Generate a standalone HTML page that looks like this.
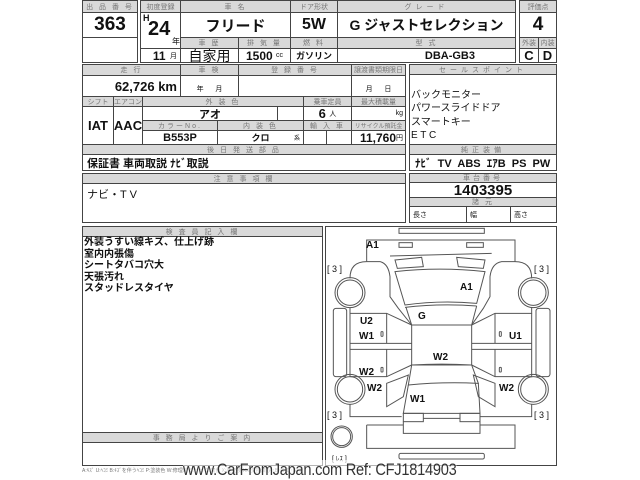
<!DOCTYPE html>
<html><head><meta charset="utf-8">
<style>
*{margin:0;padding:0;box-sizing:border-box}
body{width:640px;height:480px;background:#fff;position:relative;overflow:hidden;font-family:"Liberation Sans","Noto Sans CJK JP",sans-serif;color:#111}
.c{position:absolute;border:1px solid #444;display:flex;align-items:center;justify-content:center;white-space:nowrap;overflow:hidden}
.h{background:#d9d9d9;color:#777;font-size:7px;letter-spacing:2px}
.v{font-weight:bold;font-size:11px}
.big{font-weight:bold;font-size:19px}
.t{position:absolute;white-space:nowrap}
</style></head><body>
<div class="c h" style="left:82px;top:0;width:56px;height:13px">出 品 番 号</div>
<div class="c big" style="left:82px;top:12px;width:56px;height:26px">363</div>
<div class="c" style="left:82px;top:37px;width:56px;height:26px"></div>

<div class="c h" style="left:140px;top:0;width:41px;height:13px;letter-spacing:0">初度登録</div>
<div class="c" style="left:140px;top:12px;width:41px;height:37px"></div>
<div class="t" style="left:143px;top:13px;font-size:9px;font-weight:bold">H</div>
<div class="t" style="left:148px;top:18px;font-size:20px;font-weight:bold">24</div>
<div class="t" style="left:172px;top:36px;font-size:8px">年</div>
<div class="c" style="left:140px;top:48px;width:41px;height:15px;justify-content:flex-end;padding-right:3px"><b style="font-size:12px">11</b>&nbsp;<span style="font-size:7px">月</span></div>

<div class="c h" style="left:180px;top:0;width:111px;height:13px">車 名</div>
<div class="c big" style="left:180px;top:12px;width:111px;height:26px;font-size:15px">フリード</div>
<div class="c h" style="left:290px;top:0;width:48px;height:13px;letter-spacing:0">ドア形状</div>
<div class="c big" style="left:290px;top:12px;width:48px;height:26px;font-size:16px">5W</div>
<div class="c h" style="left:337px;top:0;width:179px;height:13px;letter-spacing:4px">グレード</div>
<div class="c big" style="left:337px;top:12px;width:179px;height:26px;font-size:14px">G ジャストセレクション</div>

<div class="c h" style="left:180px;top:37px;width:59px;height:12px">車 歴</div>
<div class="c h" style="left:238px;top:37px;width:53px;height:12px">排 気 量</div>
<div class="c h" style="left:290px;top:37px;width:48px;height:12px">燃 料</div>
<div class="c h" style="left:337px;top:37px;width:179px;height:12px">型 式</div>
<div class="c" style="left:180px;top:48px;width:59px;height:15px;font-size:14px">自家用</div>
<div class="c v" style="left:238px;top:48px;width:53px;height:15px;font-size:12px">1500&nbsp;<span style="font-size:7px;font-weight:normal">cc</span></div>
<div class="c v" style="left:290px;top:48px;width:48px;height:15px;font-size:9px">ガソリン</div>
<div class="c v" style="left:337px;top:48px;width:179px;height:15px;justify-content:flex-end;padding-right:40px">DBA-GB3</div>

<div class="c h" style="left:519px;top:0;width:38px;height:13px;letter-spacing:0">評価点</div>
<div class="c big" style="left:519px;top:12px;width:38px;height:26px">4</div>
<div class="c h" style="left:519px;top:37px;width:20px;height:12px;letter-spacing:0">外装</div>
<div class="c h" style="left:538px;top:37px;width:19px;height:12px;letter-spacing:0">内装</div>
<div class="c v" style="left:519px;top:48px;width:20px;height:15px;font-size:13px">C</div>
<div class="c v" style="left:538px;top:48px;width:19px;height:15px;font-size:13px">D</div>

<div class="c h" style="left:82px;top:64px;width:99px;height:12px">走 行</div>
<div class="c h" style="left:180px;top:64px;width:59px;height:12px">車 検</div>
<div class="c h" style="left:238px;top:64px;width:114px;height:12px">登 録 番 号</div>
<div class="c h" style="left:351px;top:64px;width:55px;height:12px;letter-spacing:0">譲渡書類期限日</div>
<div class="c v" style="left:82px;top:75px;width:99px;height:22px;justify-content:flex-end;padding-right:3px;font-size:13px">62,726 km</div>
<div class="c" style="left:180px;top:75px;width:59px;height:22px;font-size:7px;align-items:flex-end;padding-bottom:2px">年&nbsp;&nbsp;&nbsp;&nbsp;&nbsp;&nbsp;月</div>
<div class="c" style="left:238px;top:75px;width:114px;height:22px"></div>
<div class="c" style="left:351px;top:75px;width:55px;height:22px;font-size:7px;align-items:flex-end;padding-bottom:2px">月&nbsp;&nbsp;&nbsp;&nbsp;&nbsp;&nbsp;日</div>

<div class="c h" style="left:82px;top:96px;width:32px;height:11px;letter-spacing:0">シフト</div>
<div class="c h" style="left:113px;top:96px;width:30px;height:11px;letter-spacing:0">エアコン</div>
<div class="c h" style="left:142px;top:96px;width:162px;height:11px">外 装 色</div>
<div class="c h" style="left:303px;top:96px;width:49px;height:11px;letter-spacing:0">乗車定員</div>
<div class="c h" style="left:351px;top:96px;width:55px;height:11px;letter-spacing:0">最大積載量</div>
<div class="c v" style="left:82px;top:106px;width:32px;height:39px;font-size:13px">IAT</div>
<div class="c v" style="left:113px;top:106px;width:30px;height:39px;font-size:13px">AAC</div>
<div class="c v" style="left:142px;top:106px;width:136px;height:15px">アオ</div>
<div class="c" style="left:277px;top:106px;width:27px;height:15px"></div>
<div class="c v" style="left:303px;top:106px;width:49px;height:15px;font-size:13px">6&nbsp;<span style="font-size:7px;font-weight:normal">人</span></div>
<div class="c" style="left:351px;top:106px;width:55px;height:15px;justify-content:flex-end;font-size:7px;padding-right:2px">kg</div>
<div class="c h" style="left:142px;top:120px;width:76px;height:11px">カラーNo.</div>
<div class="c h" style="left:217px;top:120px;width:87px;height:11px">内 装 色</div>
<div class="c h" style="left:303px;top:120px;width:49px;height:11px">輸 入 車</div>
<div class="c h" style="left:351px;top:120px;width:55px;height:11px;letter-spacing:0;font-size:6px">リサイクル預託金</div>
<div class="c v" style="left:142px;top:130px;width:76px;height:15px">B553P</div>
<div class="c v" style="left:217px;top:130px;width:87px;height:15px;font-size:9px">クロ<span style="position:absolute;right:3px;font-size:6px;font-weight:normal">系</span></div>
<div class="c" style="left:303px;top:130px;width:24px;height:15px"></div>
<div class="c" style="left:326px;top:130px;width:26px;height:15px"></div>
<div class="c v" style="left:351px;top:130px;width:55px;height:15px;font-size:12px;justify-content:flex-end;padding-right:2px">11,760<span style="font-size:7px;font-weight:normal">円</span></div>
<div class="c h" style="left:82px;top:144px;width:324px;height:11px">後 日 発 送 部 品</div>
<div class="c" style="left:82px;top:154px;width:324px;height:17px;justify-content:flex-start;padding-left:4px;font-size:11px;font-weight:bold">保証書 車両取説 ﾅﾋﾞ取説</div>

<div class="c" style="left:409px;top:64px;width:148px;height:107px"></div>
<div class="c h" style="left:409px;top:64px;width:148px;height:11px;letter-spacing:4px">セールスポイント</div>
<div class="t" style="left:411px;top:89px;font-size:10px;line-height:13.3px">バックモニター<br>パワースライドドア<br>スマートキー<br>E T C</div>
<div class="c h" style="left:409px;top:144px;width:148px;height:11px;letter-spacing:4px">純正装備</div>
<div class="c" style="left:409px;top:154px;width:148px;height:17px;justify-content:flex-start;padding-left:5px;font-size:11px;font-weight:bold">ﾅﾋﾞ&nbsp; TV&nbsp; ABS&nbsp; ｴｱB&nbsp; PS&nbsp; PW</div>

<div class="c h" style="left:82px;top:173px;width:324px;height:11px">注 意 事 項 欄</div>
<div class="c" style="left:82px;top:183px;width:324px;height:40px;justify-content:flex-start;align-items:flex-start;padding:2px 4px;font-size:11px">ナビ・T V</div>
<div class="c h" style="left:409px;top:173px;width:148px;height:10px;letter-spacing:3px">車台番号</div>
<div class="c big" style="left:409px;top:182px;width:148px;height:16px;font-size:15px">1403395</div>
<div class="c h" style="left:409px;top:197px;width:148px;height:10px">諸 元</div>
<div class="c" style="left:409px;top:206px;width:58px;height:17px;justify-content:flex-start;padding-left:3px;font-size:7px">長さ</div>
<div class="c" style="left:466px;top:206px;width:45px;height:17px;justify-content:flex-start;padding-left:3px;font-size:7px">幅</div>
<div class="c" style="left:510px;top:206px;width:47px;height:17px;justify-content:flex-start;padding-left:3px;font-size:7px">高さ</div>

<div class="c" style="left:82px;top:226px;width:241px;height:240px"></div>
<div class="c h" style="left:82px;top:226px;width:241px;height:11px">検 査 員 記 入 欄</div>
<div class="t" style="left:84px;top:237px;font-size:10px;font-weight:bold;line-height:11.5px">外装うすい線キズ、仕上げ跡<br>室内内張傷<br>シートタバコ穴大<br>天張汚れ<br>スタッドレスタイヤ</div>
<div class="c h" style="left:82px;top:432px;width:241px;height:11px">事 務 局 よ り ご 案 内</div>

<div class="c" style="left:325px;top:226px;width:232px;height:240px"></div>
<svg style="position:absolute;left:320px;top:220px" width="240" height="260" viewBox="0 0 720 780" fill="none" stroke="#555" stroke-width="3">
<rect x="237" y="25" width="256" height="15"/>
<path d="M140,125 L140,60 L585,60 L585,125"/>
<rect x="237" y="68" width="40" height="14"/><rect x="440" y="68" width="50" height="14"/>
<path d="M210,108 L515,100"/>
<path d="M225,120 L305,112 L310,140 L232,145 Z"/><path d="M410,112 L495,120 L490,145 L415,140 Z"/>
<path d="M225,155 Q360,140 495,155 L470,250 Q360,240 255,255 Z"/>
<path d="M255,262 Q360,250 470,258"/>
<path d="M258,262 L275,315 L455,315 L470,258"/>
<rect x="275" y="315" width="180" height="120"/>
<path d="M275,435 Q365,430 455,435 L475,490 Q365,485 265,495 Z"/>
<path d="M265,495 L250,580 L480,580 L475,490"/>
<rect x="250" y="580" width="60" height="25"/><rect x="420" y="580" width="60" height="25"/>
<path d="M310,595 L420,595"/><path d="M250,605 L250,640 L480,640 L480,605"/>
<path d="M140,125 L180,125 Q205,130 210,170 L210,230 L235,265 L275,315"/>
<path d="M140,125 Q90,125 90,175"/>
<circle cx="90" cy="218" r="45"/><circle cx="90" cy="218" r="38"/>
<path d="M90,262 L90,280 L200,280 L275,315"/>
<rect x="40" y="265" width="40" height="205" rx="8"/>
<path d="M90,280 L90,470 L200,470 L275,435"/>
<path d="M90,370 L275,370 M90,388 L275,388 M200,280 L200,370 M200,388 L200,470"/>
<rect x="183" y="335" width="6" height="14" rx="2"/><rect x="183" y="442" width="6" height="14" rx="2"/>
<circle cx="90" cy="508" r="45"/><circle cx="90" cy="508" r="38"/>
<path d="M200,490 L265,465 L250,530 L200,560 Z"/>
<path d="M90,553 L90,590 L245,590"/>
<path d="M585,125 L545,125 Q515,130 510,170 L510,230 L490,265 L455,315"/>
<path d="M585,125 Q635,125 635,175"/>
<circle cx="640" cy="218" r="45"/><circle cx="640" cy="218" r="38"/>
<path d="M635,262 L635,280 L525,280 L455,315"/>
<rect x="648" y="265" width="42" height="205" rx="8"/>
<path d="M635,280 L635,470 L525,470 L455,435"/>
<path d="M455,370 L635,370 M455,388 L635,388 M525,280 L525,370 M525,388 L525,470"/>
<rect x="538" y="335" width="6" height="14" rx="2"/><rect x="538" y="442" width="6" height="14" rx="2"/>
<circle cx="640" cy="508" r="45"/><circle cx="640" cy="508" r="38"/>
<path d="M525,490 L460,465 L475,530 L525,560 Z"/>
<path d="M635,553 L635,590 L480,590"/>
<path d="M140,615 L140,685 L585,685 L585,615 L480,615 M140,615 L250,615"/>
<circle cx="65" cy="650" r="32"/><circle cx="65" cy="650" r="27"/>
<rect x="237" y="700" width="256" height="17" rx="5"/>
</svg>
<div class="t" style="left:366px;top:240px;font-size:10px;font-weight:bold">A1</div>
<div class="t" style="left:460px;top:282px;font-size:10px;font-weight:bold">A1</div>
<div class="t" style="left:418px;top:311px;font-size:10px;font-weight:bold">G</div>
<div class="t" style="left:360px;top:316px;font-size:10px;font-weight:bold">U2</div>
<div class="t" style="left:359px;top:331px;font-size:10px;font-weight:bold">W1</div>
<div class="t" style="left:433px;top:352px;font-size:10px;font-weight:bold">W2</div>
<div class="t" style="left:359px;top:367px;font-size:10px;font-weight:bold">W2</div>
<div class="t" style="left:367px;top:383px;font-size:10px;font-weight:bold">W2</div>
<div class="t" style="left:410px;top:394px;font-size:10px;font-weight:bold">W1</div>
<div class="t" style="left:509px;top:331px;font-size:10px;font-weight:bold">U1</div>
<div class="t" style="left:499px;top:383px;font-size:10px;font-weight:bold">W2</div>
<div class="t" style="left:327px;top:264px;font-size:9px">[ 3 ]</div>
<div class="t" style="left:534px;top:264px;font-size:9px">[ 3 ]</div>
<div class="t" style="left:327px;top:410px;font-size:9px">[ 3 ]</div>
<div class="t" style="left:534px;top:410px;font-size:9px">[ 3 ]</div>
<div class="t" style="left:332px;top:454px;font-size:7px">[ ﾚｽ ]</div>

<div class="t" style="left:82px;top:467px;font-size:5px;color:#777">A:ｷｽﾞ U:ﾍｺﾐ B:ｷｽﾞを伴うﾍｺﾐ P:塗装色 W:修理跡 S:サビ C:腐食 X:要交換 XX:交換済 (A･B･C･D･E) 1</div>
<div class="t" style="left:183px;top:460px;font-size:17px;color:#333;background:rgba(255,255,255,0.6);letter-spacing:-0.3px;transform:scaleX(0.86);transform-origin:left top">www.CarFromJapan.com Ref: CFJ1814903</div>
</body></html>
